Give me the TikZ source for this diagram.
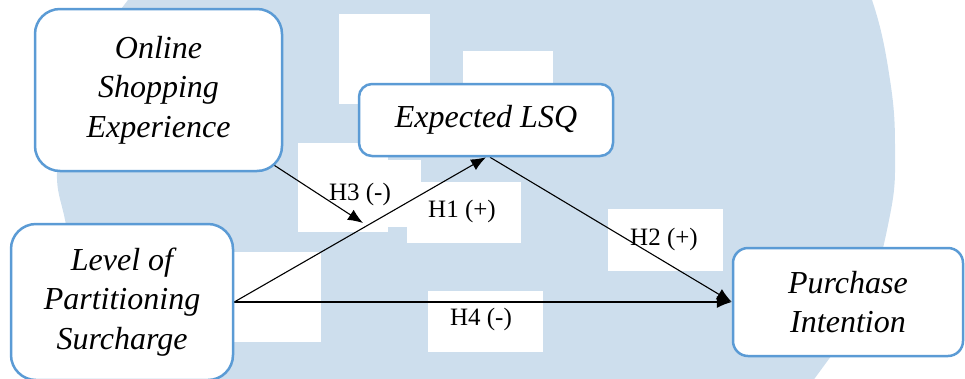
\documentclass[tikz,border=0pt]{standalone}
\usepackage{fontspec}
\setmainfont{Liberation Serif}
\usetikzlibrary{arrows.meta,calc}
\pgfdeclarelayer{back}
\pgfdeclarelayer{mid}
\pgfsetlayers{back,mid,main}
\definecolor{wmblue}{RGB}{205,222,237}
\definecolor{boxblue}{RGB}{91,155,213}
\begin{document}
\begin{tikzpicture}[x=1pt,y=-1pt,
  var/.style={draw=boxblue, line width=2.5pt, fill=white, rounded corners=#1,
    align=center, inner sep=0pt, font=\fontsize{32}{39.5}\selectfont\itshape},
  hyp/.style={font=\fontsize{25}{30}\selectfont, inner sep=0pt, anchor=base},
  link/.style={line width=1.1pt, -{Latex[length=15pt,width=12pt]}},
  wbox/.style={fill=white}]
\useasboundingbox (0,0) rectangle (965,378);
\begin{pgfonlayer}{back}
\begin{scope}
  \clip (0,0) rectangle (965,378);
  \fill[wmblue] plot[smooth cycle, tension=0.7] coordinates {
    (480,-250) (700,-190) (840,-70) (872,0) (890,80) (895,150) (890,215)
    (865,300) (815,378) (720,500) (480,590) (250,510) (110,390) (80,300)
    (66,225) (57,170) (70,100) (100,40) (128,0) (200,-90)};
  \fill[wbox] (339,14) rectangle (430,104);
  \fill[wbox] (463,51) rectangle (553,95);
  \fill[wbox] (298,143) rectangle (388,232);
  \fill[wbox] (388,160) rectangle (421,227);
  \fill[wbox] (407,182) rectangle (521,243);
  \fill[wbox] (225,252) rectangle (321,342);
  \fill[wbox] (428,291) rectangle (543,352);
  \fill[wbox] (608,209) rectangle (723,271);
\end{scope}
\end{pgfonlayer}

\node[var=25pt, minimum width=247pt, minimum height=162pt] (O) at (158.5,90) {Online\\Shopping\\Experience};
\node[var=13pt, minimum width=254pt, minimum height=72pt] (E) at (486,120) {Expected LSQ};
\node[var=25pt, minimum width=222pt, minimum height=156pt] (L) at (122,302) {Level of\\Partitioning\\Surcharge};
\node[var=15pt, minimum width=230pt, minimum height=108pt] (P) at (848,302) {Purchase\\Intention};

\node[hyp] (h3) at (360,200) {H3 (-)};
\node[hyp] (h1) at (462,217) {H1 (+)};
\node[hyp] (h2) at (664,245) {H2 (+)};
\node[hyp] (h4) at (481,325) {H4 (-)};

\begin{pgfonlayer}{mid}
  \coordinate (h3e) at (363,223);
  \draw[link] (O.center) -- (h3e);
  \draw[link] (L.east) -- (E.south);
  \draw[link] ([xshift=4pt]E.south) -- (P.west);
  \draw[link] (L.east) -- (P.west);
\end{pgfonlayer}
\end{tikzpicture}
\end{document}
